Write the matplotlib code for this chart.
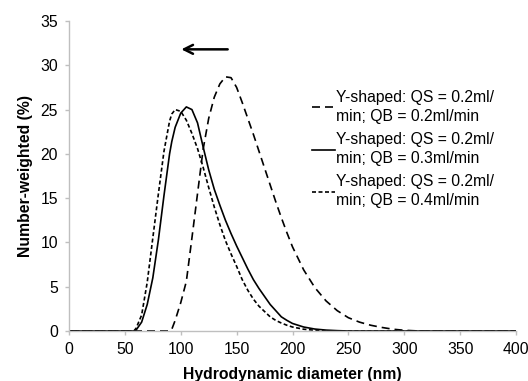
import matplotlib
matplotlib.use("Agg")
import matplotlib.pyplot as plt

plt.rcParams['font.family'] = ['Liberation Sans', 'DejaVu Sans']

# diameter bins (nm)
diameter = [0, 20, 40, 55, 58, 60, 65, 70, 75, 80, 85, 90, 92, 95, 100, 105, 110, 115,
            120, 125, 130, 135, 140, 145, 150, 155, 160, 165, 170, 175, 180, 185, 190,
            195, 200, 210, 220, 230, 240, 250, 260, 270, 280, 290, 300, 310, 320, 350, 400]

# number-weighted (%) per flow condition
qb_02 = [0, 0, 0, 0, 0, 0, 0, 0, 0, 0, 0, 0, 0.2, 1.2, 3.2, 5.6, 10.5, 15.5,
         20.5, 24.0, 26.4, 27.9, 28.7, 28.6, 27.5, 25.8, 24.0, 22.2, 20.3, 18.4, 16.5, 14.6, 12.8,
         11.1, 9.5, 6.9, 4.9, 3.4, 2.3, 1.5, 1.0, 0.65, 0.4, 0.2, 0.08, 0.02, 0, 0, 0]
qb_03 = [0, 0, 0, 0, 0, 0.1, 1.0, 3.0, 6.0, 10.3, 15.3, 20.0, 21.4, 23.0, 24.6, 25.3, 25.0, 23.5,
         20.8, 18.2, 16.0, 14.2, 12.5, 11.0, 9.6, 8.3, 7.0, 5.8, 4.8, 3.9, 3.0, 2.3, 1.6,
         1.2, 0.85, 0.45, 0.22, 0.1, 0.04, 0, 0, 0, 0, 0, 0, 0, 0, 0, 0]
qb_04 = [0, 0, 0, 0, 0, 0.3, 1.8, 5.5, 10.5, 15.5, 20.3, 23.7, 24.5, 25.0, 24.8, 23.8, 22.3, 20.6,
         18.5, 16.2, 14.0, 12.0, 10.2, 8.7, 7.3, 5.8, 4.6, 3.6, 2.8, 2.2, 1.6, 1.2, 0.9,
         0.65, 0.45, 0.2, 0.08, 0.02, 0, 0, 0, 0, 0, 0, 0, 0, 0, 0, 0]

labels = ["Y-shaped: QS = 0.2ml/\nmin; QB = 0.2ml/min",
          "Y-shaped: QS = 0.2ml/\nmin; QB = 0.3ml/min",
          "Y-shaped: QS = 0.2ml/\nmin; QB = 0.4ml/min"]

fs = 11.3
grey = '#bfbfbf'

fig = plt.figure(figsize=(5.28, 3.81), dpi=100)
ax = fig.add_axes([69 / 528, 50 / 381, 447 / 528, 310 / 381])

ax.plot(diameter, qb_02, color='black', lw=1.2, dashes=(4.8, 3.0), label=labels[0])
ax.plot(diameter, qb_03, color='black', lw=1.2, label=labels[1])
ax.plot(diameter, qb_04, color='black', lw=1.2, dashes=(2.4, 1.5), label=labels[2])

ax.annotate('', xy=(100.5, 31.8), xytext=(142, 31.8),
            arrowprops=dict(arrowstyle='->', lw=1.8, color='black',
                            mutation_scale=16, shrinkA=0, shrinkB=0))

ax.set_xlim(0, 400)
ax.set_ylim(0, 35)
ax.set_xticks(range(0, 401, 50))
ax.set_yticks(range(0, 36, 5))

for side in ['top', 'right']:
    ax.spines[side].set_visible(False)
for side in ['left', 'bottom']:
    ax.spines[side].set_color(grey)
    ax.spines[side].set_linewidth(1.0)

ax.tick_params(axis='both', colors=grey, length=3, width=1.0, labelsize=fs,
               labelcolor='black', pad=5)

ax.set_xlabel('Hydrodynamic diameter (nm)', fontsize=fs, fontweight='bold', labelpad=7)
ax.set_ylabel('Number-weighted (%)', fontsize=fs, fontweight='bold', labelpad=5)

leg = ax.legend(loc='upper left', bbox_to_anchor=(312 / 528, 1 - 90 / 381),
                bbox_transform=fig.transFigure, frameon=False, fontsize=fs,
                handlelength=1.45, handletextpad=0.1, labelspacing=0.55,
                borderpad=0, borderaxespad=0)
for t in leg.get_texts():
    t.set_linespacing(1.3)

fig.savefig('out.png', dpi=100)
